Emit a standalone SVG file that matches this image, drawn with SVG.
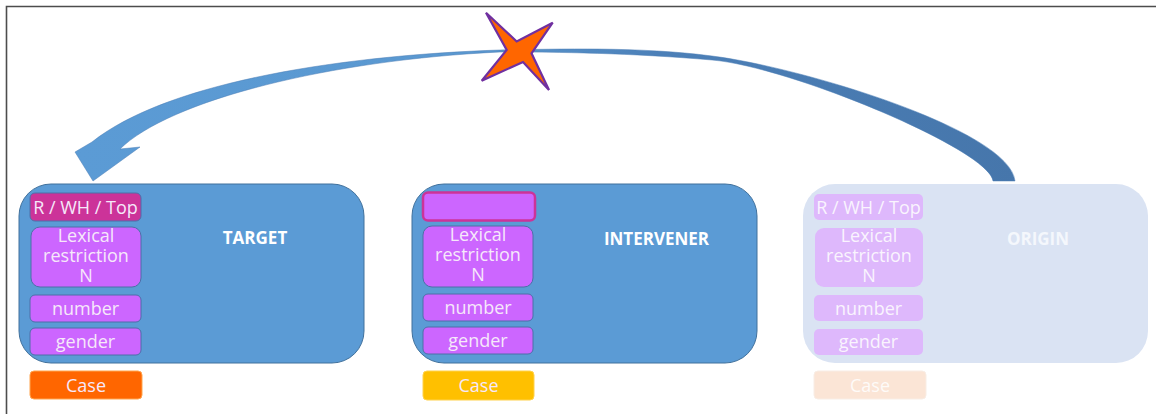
<svg xmlns="http://www.w3.org/2000/svg" width="1156" height="414" viewBox="0 0 1156 414">
<style>
.main{fill:#5B9BD5;stroke:#41719C;stroke-width:1}
.ghost{fill:#DAE3F3}
.feat{fill:#CC66FF;stroke:#4F6FA8;stroke-width:1}
.featg{fill:#DEB8FC}
.t{font-family:"Open Sans","Liberation Sans",sans-serif;font-size:18px;fill:#F6E8FA;text-anchor:middle}
.tg{font-family:"Open Sans","Liberation Sans",sans-serif;font-size:18px;fill:#FFFFFF;text-anchor:middle;opacity:0.85}
.lbl{font-family:"Open Sans","Liberation Sans",sans-serif;font-size:17px;font-weight:bold;fill:#FFFFFF;text-anchor:middle}
</style>
<defs>
<linearGradient id="arrowGrad" x1="0" y1="0" x2="1" y2="0">
<stop offset="0" stop-color="#5B9BD5"/>
<stop offset="0.42" stop-color="#5A98D0"/>
<stop offset="0.62" stop-color="#4C80B8"/>
<stop offset="1" stop-color="#4676AB"/>
</linearGradient>
</defs>
<rect x="0" y="0" width="1156" height="414" fill="#FFFFFF"/>
<path d="M6.5,414 V6.5 H1156" fill="none" stroke="#4D4D4D" stroke-width="1.6"/>

<g id="connectors">
<path d="M993,181 L1015,181 C1010,130 800,67 712,56 C640,46.6 560,49 500,50 C350,55 170,80 92,142 L75,152 L93,181 L140,147 L120,149 C170,100 330,60 500,52 C560,52 630,53 712,60 C790,66.6 990,150 993,181 Z" fill="url(#arrowGrad)" stroke="#4A7DB5" stroke-width="0.5"/>
<path d="M486,12.7 L516.7,41.5 L552.7,22.7 L531.5,53.3 L549,90 L523,62 L481.7,80.7 L506.7,50 Z" fill="#FF6600" stroke="#7030A0" stroke-width="2.2" stroke-linejoin="miter"/>
</g>

<g id="target">
<rect class="main" x="19" y="184" width="345" height="179" rx="32"/>
<text class="lbl" x="255" y="244">TARGET</text>
<rect x="30" y="193" width="111" height="28" rx="5" fill="#CC3399" stroke="#4F6FA8" stroke-width="1"/>
<text class="t" x="85.5" y="213.5">R / WH / Top</text>
<rect class="feat" x="31" y="227" width="110" height="60" rx="9"/>
<text class="t" x="86" y="241.5">Lexical</text>
<text class="t" x="86" y="261.5">restriction</text>
<text class="t" x="86" y="281.5">N</text>
<rect class="feat" x="30" y="295" width="111" height="27" rx="5"/>
<text class="t" x="85.5" y="315">number</text>
<rect class="feat" x="30" y="328" width="111" height="27" rx="5"/>
<text class="t" x="85.5" y="348">gender</text>
<rect x="30" y="371" width="112" height="28" rx="4" fill="#FF6600" stroke="#FFA54F" stroke-width="1"/>
<text class="t" x="86" y="391.5">Case</text>
</g>

<g id="intervener">
<rect class="main" x="412" y="184" width="345" height="179" rx="32"/>
<text class="lbl" x="656.5" y="245">INTERVENER</text>
<rect x="423" y="192.5" width="112" height="28" rx="5" fill="#CC66FF" stroke="#CC3399" stroke-width="2.5"/>
<rect class="feat" x="423" y="226" width="110" height="61" rx="9"/>
<text class="t" x="478" y="241">Lexical</text>
<text class="t" x="478" y="261">restriction</text>
<text class="t" x="478" y="281">N</text>
<rect class="feat" x="423" y="294" width="110" height="27" rx="5"/>
<text class="t" x="478" y="314">number</text>
<rect class="feat" x="423" y="327" width="110" height="27" rx="5"/>
<text class="t" x="478" y="347">gender</text>
<rect x="423" y="371" width="111" height="29" rx="4" fill="#FFC000" stroke="#FFD24D" stroke-width="1"/>
<text class="t" x="478.5" y="392">Case</text>
</g>

<g id="origin">
<rect class="ghost" x="803" y="184" width="345" height="179" rx="32"/>
<text class="lbl" x="1038" y="245" style="fill:#F4F7FC">ORIGIN</text>
<rect class="featg" x="814" y="194" width="109" height="26" rx="5"/>
<text class="tg" x="868.5" y="213.5">R / WH / Top</text>
<rect class="featg" x="815" y="228" width="108" height="59" rx="9"/>
<text class="tg" x="869" y="242">Lexical</text>
<text class="tg" x="869" y="262">restriction</text>
<text class="tg" x="869" y="282">N</text>
<rect class="featg" x="814" y="295" width="109" height="26" rx="5"/>
<text class="tg" x="868.5" y="315">number</text>
<rect class="featg" x="814" y="329" width="109" height="26" rx="5"/>
<text class="tg" x="868.5" y="348">gender</text>
<rect x="814" y="371" width="112" height="28" rx="4" fill="#FBE5D6" stroke="#F8EDE5" stroke-width="1"/>
<text class="tg" x="870" y="391.5">Case</text>
</g>
</svg>
